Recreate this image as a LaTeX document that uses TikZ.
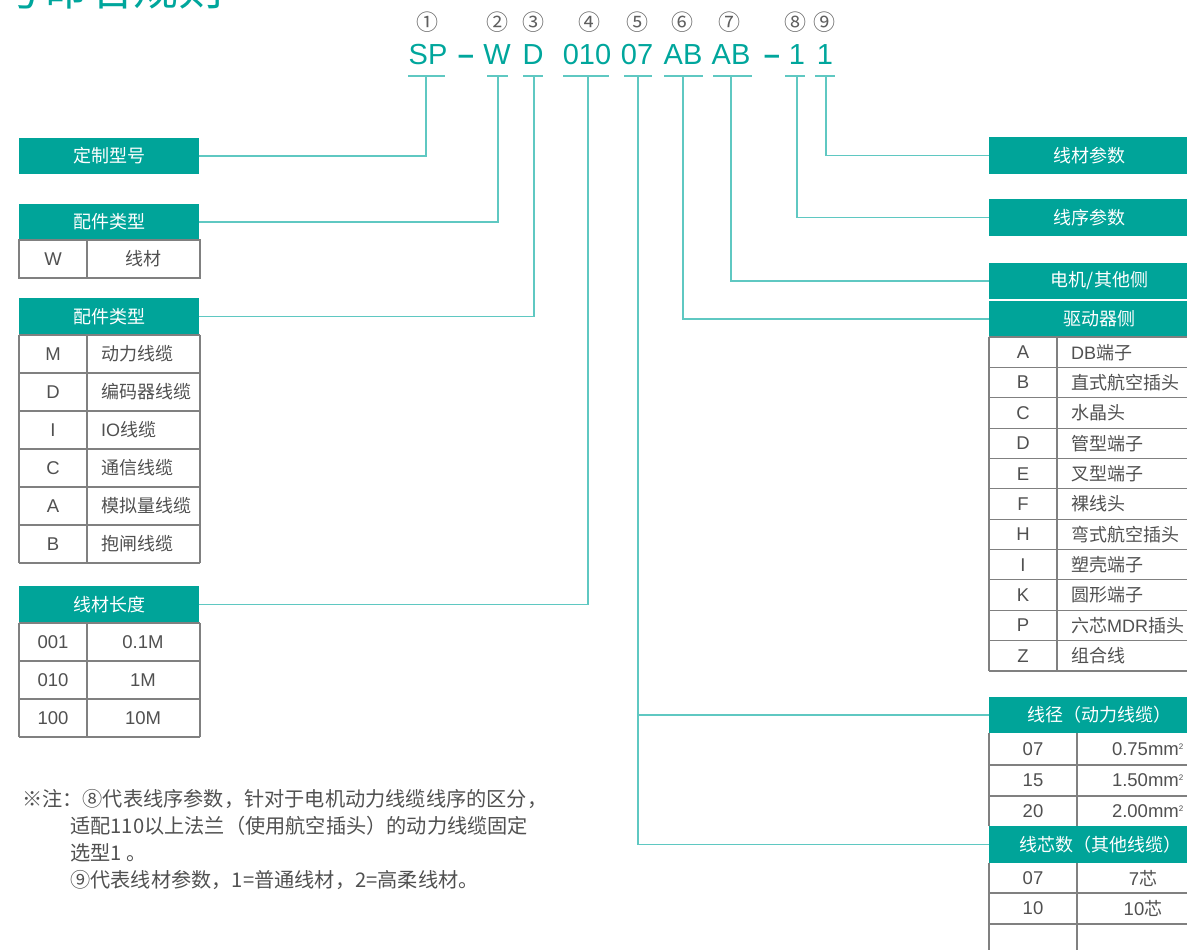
\documentclass[tikz,border=0pt]{standalone}
\usepackage{fontspec}
\setmainfont{Noto Sans CJK SC}
\newfontfamily\lat{Liberation Sans}
\newcommand\myfs[1]{\fontsize{#1}{#1}\selectfont}
\definecolor{tealbox}{RGB}{0,164,153}
\definecolor{tealline}{RGB}{95,200,194}
\definecolor{tealtxt}{RGB}{0,166,156}
\definecolor{gridc}{RGB}{128,128,128}
\definecolor{txtc}{RGB}{80,80,80}
\definecolor{numc}{RGB}{95,95,95}
\begin{document}
\begin{tikzpicture}[x=1pt,y=-1pt,
  hdr/.style={fill=tealbox,text=white,inner sep=0pt,minimum height=36pt,font=\myfs{18}},
  lhdr/.style={hdr,minimum width=180pt},
  rhdr/.style={hdr,minimum width=201pt},
  conn/.style={draw=tealline,line width=1.3pt},
  gridl/.style={draw=gridc,line width=1.1pt},
  cell/.style={text=txtc,font=\myfs{18},inner sep=0pt},
  lcell/.style={cell,font=\lat\myfs{18.5}},
  codet/.style={text=tealtxt,font=\lat\myfs{29},inner sep=0pt,anchor=base},
  circ/.style={text=numc,font=\myfs{22},inner sep=0pt},
  note/.style={text=txtc,font=\myfs{20.2},inner sep=0pt,anchor=west}]
\useasboundingbox (0,0) rectangle (1187,950);
\begin{scope}
\clip (0,0) rectangle (1187,950);
% title (clipped at top, as in the reference)
\node[anchor=base east,text=tealtxt,font=\myfs{45},inner sep=0pt] (title) at (224,6) {型号命名规则};

% circled numbers
\node[circ] (n1) at (427,22) {①};
\node[circ] (n2) at (497,22) {②};
\node[circ] (n3) at (533,22) {③};
\node[circ] (n4) at (589,22) {④};
\node[circ] (n5) at (637,22) {⑤};
\node[circ] (n6) at (682,22) {⑥};
\node[circ] (n7) at (729,22) {⑦};
\node[circ] (n8) at (795,22) {⑧};
\node[circ] (n9) at (824,22) {⑨};

% code
\node[codet] (cSP) at (428,65) {SP};
\node[codet,font=\lat\bfseries\myfs{29}] (cd1) at (466,65) {–};
\node[codet] (cW) at (497,65) {W};
\node[codet] (cD) at (533,65) {D};
\node[codet] (c010) at (587,65) {010};
\node[codet] (c07) at (637,65) {07};
\node[codet] (cAB1) at (683,65) {AB};
\node[codet] (cAB2) at (731,65) {AB};
\node[codet,font=\lat\bfseries\myfs{29}] (cd2) at (772,65) {–};
\node[codet] (c1a) at (797,65) {1};
\node[codet] (c1b) at (825,65) {1};

% underlines
\draw[conn] (408,76) -- (445,76);
\draw[conn] (487,76) -- (508,76);
\draw[conn] (523,76) -- (543,76);
\draw[conn] (563,76) -- (609,76);
\draw[conn] (624,76) -- (652,76);
\draw[conn] (664,76) -- (703,76);
\draw[conn] (713,76) -- (752,76);
\draw[conn] (785,76) -- (805,76);
\draw[conn] (815,76) -- (835,76);
\coordinate (t1) at (426,76);
\coordinate (t2) at (498,76);
\coordinate (t3) at (534,76);
\coordinate (t4) at (588,76);
\coordinate (t5) at (638,76);
\coordinate (t6) at (683,76);
\coordinate (t7) at (731,76);
\coordinate (t8) at (797,76);
\coordinate (t9) at (826,76);

% left headers
\node[lhdr] (h1) at (109,156) {定制型号};
\node[lhdr] (h2) at (109,222) {配件类型};
\node[lhdr,minimum height=37pt] (h3) at (109,316.5) {配件类型};
\node[lhdr,minimum height=37pt] (h4) at (109,604.5) {线材长度};

% right headers
\node[rhdr,minimum height=37pt] (r9) at (1089.5,155.5) {线材参数};
\node[rhdr,minimum height=37pt] (r8) at (1089.5,217.5) {线序参数};
\node[rhdr] (r7) at (1089.5,281) {\hspace*{20pt}电机/其他侧};
\node[rhdr] (r6) at (1089.5,319) {\hspace*{20pt}驱动器侧};
\node[rhdr] (r5a) at (1089.5,715) {\hspace*{20pt}线径（动力线缆）};
\node[rhdr,minimum height=37pt] (r5b) at (1089.5,844.5) {\hspace*{22pt}线芯数（其他线缆）};

% connectors
\draw[conn] (t1) |- (h1.east);
\draw[conn] (t2) |- (h2.east);
\draw[conn] (t3) |- (h3.east);
\draw[conn] (t4) |- (h4.east);
\draw[conn] (t5) |- (r5b.west);
\draw[conn] (t5 |- r5a.west) -- (r5a.west);
\draw[conn] (t6) |- (r6.west);
\draw[conn] (t7) |- (r7.west);
\draw[conn] (t8) |- (r8.west);
\draw[conn] (t9) |- (r9.west);

% left table 1 (W)
\draw[gridl] (19,240) rectangle (200,278);
\draw[gridl] (87,240) -- (87,278);
\node[lcell] (w1) at (53,259) {W};
\node[cell] (w2) at (143,259) {线材};

% left table 2
\foreach \k in {0,...,6} {\draw[gridl] (19,335+38*\k) -- (200,335+38*\k);}
\draw[gridl] (19,335) -- (19,563);
\draw[gridl] (87,335) -- (87,563);
\draw[gridl] (200,335) -- (200,563);
\foreach \a/\b [count=\i from 0] in {M/动力线缆,D/编码器线缆,I/{{\lat IO}线缆},C/通信线缆,A/模拟量线缆,B/抱闸线缆} {
  \node[lcell] (ta\i) at (53,354+38*\i) {\a};
  \node[cell,anchor=west] (tb\i) at (101,354+38*\i) {\b};
}

% left table 3
\foreach \k in {0,...,3} {\draw[gridl] (19,623+38*\k) -- (200,623+38*\k);}
\draw[gridl] (19,623) -- (19,737);
\draw[gridl] (87,623) -- (87,737);
\draw[gridl] (200,623) -- (200,737);
\foreach \a/\b [count=\i from 0] in {001/0.1M,010/1M,100/10M} {
  \node[lcell] (la\i) at (53,642+38*\i) {\a};
  \node[lcell] (lb\i) at (143,642+38*\i) {\b};
}

% right table (driver side)
\foreach \k in {0,...,11} {\draw[gridl] (989,337+30.36*\k) -- (1192,337+30.36*\k);}
\draw[gridl] (989,337) -- (989,671);
\draw[gridl] (1057,337) -- (1057,671);
\foreach \a/\b [count=\i from 0] in {A/{{\lat DB}端子},B/直式航空插头,C/水晶头,D/管型端子,E/叉型端子,F/裸线头,H/弯式航空插头,I/塑壳端子,K/圆形端子,P/{六芯{\lat MDR}插头},Z/组合线} {
  \node[lcell] (ra\i) at (1023,352.2+30.36*\i) {\a};
  \node[cell,anchor=west] (rb\i) at (1071,352.2+30.36*\i) {\b};
}

% lower right table 1
\foreach \y in {765,796} {\draw[gridl] (989,\y) -- (1192,\y);}
\draw[gridl] (989,733) -- (989,826);
\draw[gridl] (1077,733) -- (1077,826);
\foreach \a/\b/\y [count=\i] in {07/0.75/749,15/1.50/780.5,20/2.00/811} {
  \node[lcell] (pa\i) at (1033,\y) {\a};
  \node[lcell,anchor=east] (pb\i) at (1184,\y) {\b mm\textsuperscript{\myfs{8}2}};
}

% lower right table 2
\foreach \y in {893,924} {\draw[gridl] (989,\y) -- (1192,\y);}
\draw[gridl] (989,863) -- (989,952);
\draw[gridl] (1077,863) -- (1077,952);
\node[lcell] (s1) at (1033,878) {07};
\node[cell] (s2) at (1143,878) {{\lat\myfs{18.5}7}芯};
\node[lcell] (s3) at (1033,908.5) {10};
\node[cell] (s4) at (1143,908.5) {{\lat\myfs{18.5}10}芯};

% note
\node[note] (m1) at (22,799) {※注：⑧代表线序参数，针对于电机动力线缆线序的区分，};
\node[note] (m2) at (70,826) {适配110以上法兰（使用航空插头）的动力线缆固定};
\node[note] (m3) at (70,853) {选型1 。};
\node[note] (m4) at (70,880) {⑨代表线材参数，1=普通线材，2=高柔线材。};
\end{scope}
\end{tikzpicture}
\end{document}
